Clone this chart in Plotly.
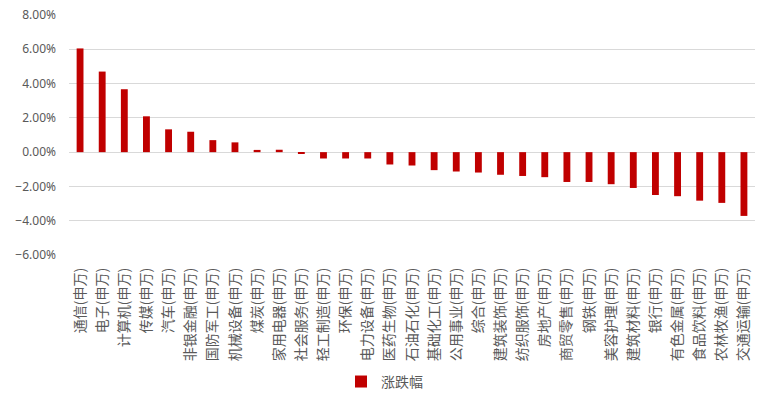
import plotly.graph_objects as go

categories = ["通信(申万)", "电子(申万)", "计算机(申万)", "传媒(申万)", "汽车(申万)", "非银金融(申万)",
              "国防军工(申万)", "机械设备(申万)", "煤炭(申万)", "家用电器(申万)", "社会服务(申万)",
              "轻工制造(申万)", "环保(申万)", "电力设备(申万)", "医药生物(申万)", "石油石化(申万)",
              "基础化工(申万)", "公用事业(申万)", "综合(申万)", "建筑装饰(申万)", "纺织服饰(申万)",
              "房地产(申万)", "商贸零售(申万)", "钢铁(申万)", "美容护理(申万)", "建筑材料(申万)",
              "银行(申万)", "有色金属(申万)", "食品饮料(申万)", "农林牧渔(申万)", "交通运输(申万)"]
change_pct = [6.05, 4.70, 3.67, 2.09, 1.33, 1.19, 0.70, 0.57, 0.13, 0.14, -0.08,
              -0.37, -0.37, -0.37, -0.72, -0.78, -1.05, -1.13, -1.19, -1.32, -1.39,
              -1.46, -1.74, -1.74, -1.87, -2.09, -2.50, -2.57, -2.83, -2.96, -3.72]
series_name = "涨跌幅"

font_family = "Noto Sans CJK SC, Microsoft YaHei, sans-serif"

fig = go.Figure()
fig.add_trace(go.Bar(
    x=categories,
    y=[v / 100 for v in change_pct],
    name=series_name,
    marker=dict(color="#C00000", line=dict(width=0)),
    showlegend=True,
))

fig.update_layout(
    width=775, height=397,
    margin=dict(l=69, r=20, t=15, b=142, autoexpand=False),
    paper_bgcolor="white", plot_bgcolor="white",
    font=dict(family=font_family, size=14, color="#595959"),
    bargap=0.69,
    showlegend=True,
    legend=dict(orientation="h", xref="container", yref="container",
                x=0.44, xanchor="left", y=0.038, yanchor="middle",
                itemwidth=30, font=dict(size=14, color="#595959")),
)
fig.update_xaxes(
    tickangle=-90, showgrid=False, showline=False, ticks="", automargin=False,
    ticklabelstandoff=9,
    tickfont=dict(size=14, color="#595959"),
)
fig.update_yaxes(
    range=[-0.06, 0.08], dtick=0.02, tick0=0, tickformat=".2%",
    showgrid=True, gridcolor="#D9D9D9", gridwidth=1, automargin=False,
    zeroline=True, zerolinecolor="#D9D9D9", zerolinewidth=1,
    showline=False, ticks="", ticklabelstandoff=12,
    tickfont=dict(family="Noto Sans, sans-serif", size=12, color="#595959"),
)

fig.write_html("out.html", config={"displayModeBar": False},
               post_script="document.body.style.margin='0px';")
